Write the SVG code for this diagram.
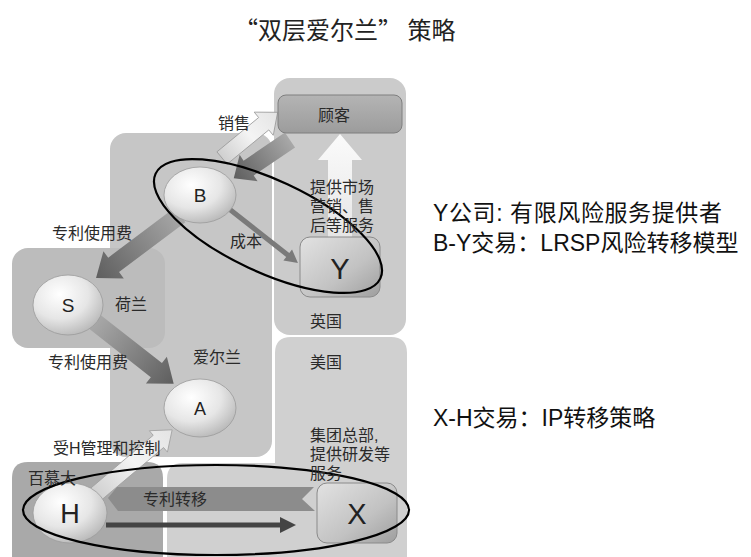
<svg xmlns="http://www.w3.org/2000/svg" width="751" height="557" viewBox="0 0 751 557">
<defs>
<radialGradient id="ball" cx="0.38" cy="0.32" r="0.75">
<stop offset="0" stop-color="#ffffff"/>
<stop offset="0.55" stop-color="#e6e6e6"/>
<stop offset="1" stop-color="#b4b4b4"/>
</radialGradient>
<linearGradient id="box" x1="0" y1="0" x2="1" y2="1">
<stop offset="0" stop-color="#e2e2e2"/>
<stop offset="0.6" stop-color="#c2c2c2"/>
<stop offset="1" stop-color="#9e9e9e"/>
</linearGradient>
<linearGradient id="cust" x1="0" y1="0" x2="0" y2="1">
<stop offset="0" stop-color="#b4b4b4"/>
<stop offset="1" stop-color="#9c9c9c"/>
</linearGradient>
<linearGradient id="dark" x1="0" y1="0" x2="1" y2="0">
<stop offset="0" stop-color="#a8a8a8"/>
<stop offset="1" stop-color="#5e5e5e"/>
</linearGradient>
<linearGradient id="light" x1="0" y1="0" x2="1" y2="0">
<stop offset="0" stop-color="#cfcfcf"/>
<stop offset="0.5" stop-color="#f4f4f4"/>
<stop offset="1" stop-color="#e4e4e4"/>
</linearGradient>
<linearGradient id="upw" x1="0" y1="1" x2="0" y2="0">
<stop offset="0" stop-color="#e6e6e6"/>
<stop offset="1" stop-color="#fbfbfb"/>
</linearGradient>
<style>
.lbl{font-family:"Liberation Sans","Noto Sans CJK SC",sans-serif;font-size:16px;fill:#2a2a2a}
.let{font-family:"Liberation Sans",Arial,sans-serif;fill:#222;text-anchor:middle}
.side{font-family:"Liberation Sans","Noto Sans CJK SC",sans-serif;font-size:23px;fill:#111}
.ring{fill:none;stroke:#000;stroke-width:2.2}
.node{stroke:#9a9a9a;stroke-width:0.8}
</style>
</defs>
<rect width="751" height="557" fill="#ffffff"/>

<text x="234" y="39" font-family="Noto Sans CJK SC, sans-serif" font-size="24" fill="#222">“双层爱尔兰” 策略</text>

<g id="regions">
<rect x="274" y="78" width="132" height="257" rx="16" fill="#cbcbcb"/>
<rect x="110" y="133" width="162" height="324" rx="16" fill="#c6c6c6"/>
<rect x="12" y="248" width="153" height="100" rx="16" fill="#bcbcbc"/>
<path d="M291,337 H391 Q407,337 407,353 V557 H167 V479 Q167,463 183,463 H275 V353 Q275,337 291,337 Z" fill="#d0d0d0"/>
<path d="M28,462 H147 Q163,462 163,478 V557 H12 V478 Q12,462 28,462 Z" fill="#a9a9a9"/>
</g>

<g id="connectors">
<polygon points="0,-9 50,-9 50,-16 68,0 50,16 50,9 0,9" transform="translate(290,140) rotate(145.8)" fill="url(#dark)"/>
<polygon points="0,-8 54,-8 54,-15 72,0 54,15 54,8 0,8" transform="translate(222,158) rotate(-39.4)" fill="url(#light)" stroke="#9a9a9a" stroke-width="0.8"/>
<polygon points="0,-9 83,-9 83,-17 105,0 83,17 83,9 0,9" transform="translate(180,215) rotate(143.1)" fill="url(#dark)"/>
<polygon points="0,-2.5 76,-2.5 76,-7 89,0 76,7 76,2.5 0,2.5" transform="translate(228,208) rotate(38.2)" fill="#7a7a7a"/>
<polygon points="328,237 328,160 318,160 340,134 362,160 352,160 352,237" fill="url(#upw)"/>
<polygon points="0,-9 78,-9 78,-17 100,0 78,17 78,9 0,9" transform="translate(95,322) rotate(38.1)" fill="url(#dark)"/>
<polygon points="0,-8 83,-8 83,-14 101,0 83,14 83,8 0,8" transform="translate(95,495) rotate(-40.2)" fill="url(#light)" stroke="#a0a0a0" stroke-width="0.8"/>
<polygon points="108,498 117,487 314,487 302,499 315,511 118,511" fill="#8c8c8c"/>
<polygon points="0,-2.5 174,-2.5 174,-8 190,0 174,8 174,2.5 0,2.5" transform="translate(106,525)" fill="#444444"/>
</g>

<g id="node-customer">
<rect x="278" y="95" width="124" height="38" rx="8" fill="url(#cust)" stroke="#7e7e7e" stroke-width="1"/>
<text class="lbl" x="334" y="121" text-anchor="middle" font-size="17">顾客</text>
</g>
<g id="node-B">
<ellipse class="node" cx="200" cy="195" rx="36" ry="28" fill="url(#ball)"/>
<text class="let" x="200" y="202" font-size="19">B</text>
</g>
<g id="node-Y">
<rect x="300" y="237" width="80" height="60" rx="10" fill="url(#box)" stroke="#8a8a8a" stroke-width="1"/>
<text class="let" x="340" y="279" font-size="29">Y</text>
</g>
<g id="node-S">
<ellipse class="node" cx="68" cy="305" rx="35" ry="30" fill="url(#ball)"/>
<text class="let" x="68" y="312" font-size="19">S</text>
</g>
<g id="node-A">
<ellipse class="node" cx="200" cy="408" rx="36" ry="29" fill="url(#ball)"/>
<text class="let" x="200" y="415" font-size="18">A</text>
</g>
<g id="node-H">
<ellipse class="node" cx="70" cy="513" rx="37" ry="30" fill="url(#ball)"/>
<text class="let" x="70" y="523" font-size="27">H</text>
</g>
<g id="node-X">
<rect x="317" y="483" width="80" height="60" rx="10" fill="url(#box)" stroke="#8a8a8a" stroke-width="1"/>
<text class="let" x="357" y="524" font-size="29">X</text>
</g>

<g id="highlights">
<ellipse class="ring" cx="268" cy="226" rx="124" ry="46" transform="rotate(25 268 226)"/>
<ellipse class="ring" cx="216" cy="510" rx="193" ry="45"/>
</g>

<g id="labels">
<text class="lbl" x="218" y="129">销售</text>
<text class="lbl" x="310" y="193">提供市场</text>
<text class="lbl" x="310" y="212">营销、售</text>
<text class="lbl" x="310" y="231">后等服务</text>
<text class="lbl" x="52" y="239" font-size="17">专利使用费</text>
<text class="lbl" x="230" y="247" font-size="15">成本</text>
<text class="lbl" x="115" y="310" font-size="17">荷兰</text>
<text class="lbl" x="310" y="327">英国</text>
<text class="lbl" x="310" y="368">美国</text>
<text class="lbl" x="48" y="368" font-size="17">专利使用费</text>
<text class="lbl" x="193" y="363" font-size="17">爱尔兰</text>
<text class="lbl" x="53" y="454" font-size="16">受H管理和控制</text>
<text class="lbl" x="28" y="484" font-size="17">百慕大</text>
<text class="lbl" x="310" y="441">集团总部,</text>
<text class="lbl" x="310" y="460">提供研发等</text>
<text class="lbl" x="310" y="479">服务</text>
<text class="lbl" x="143" y="505" font-size="16">专利转移</text>
</g>

<g id="notes">
<text class="side" x="433" y="221" letter-spacing="0.6">Y公司: 有限风险服务提供者</text>
<text class="side" x="433" y="251">B-Y交易：LRSP风险转移模型</text>
<text class="side" x="433" y="426">X-H交易：IP转移策略</text>
</g>
</svg>
